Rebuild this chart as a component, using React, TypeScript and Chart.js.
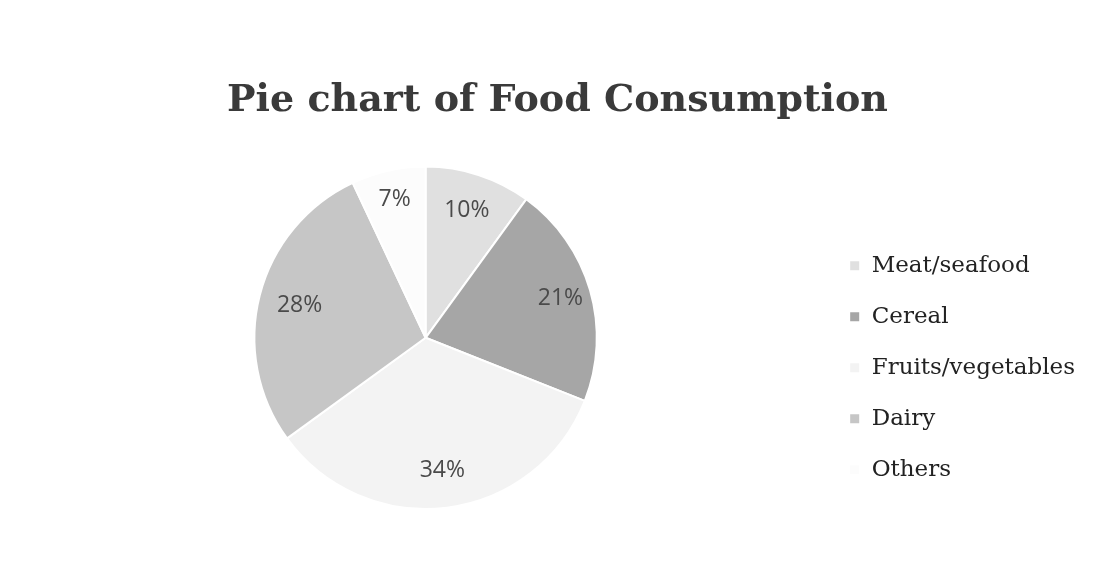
import React, { useEffect, useRef } from "react";
import { Chart, registerables } from "chart.js";

Chart.register(...registerables);

const categories = ["Meat/seafood", "Cereal", "Fruits/vegetables", "Dairy", "Others"];
const shares = [10, 21, 34, 28, 7];
const sliceColors = ["#e0e0e0", "#a6a6a6", "#f3f3f3", "#c6c6c6", "#fcfcfc"];
const labelRadiusFactor = [0.78, 0.82, 0.78, 0.76, 0.83];
const titleText = "Pie chart of Food Consumption";

const pctLabels = {
  id: "pctLabels",
  afterDatasetsDraw(chart: any) {
    const meta = chart.getDatasetMeta(0);
    const ctx = chart.ctx;
    ctx.save();
    ctx.font = "23px 'Open Sans'";
    ctx.fillStyle = "#4a4a4a";
    ctx.textAlign = "center";
    ctx.textBaseline = "middle";
    meta.data.forEach((arc: any, i: number) => {
      const { x, y, startAngle, endAngle, outerRadius } = arc.getProps(
        ["x", "y", "startAngle", "endAngle", "outerRadius"],
        true
      );
      const mid = (startAngle + endAngle) / 2;
      const r = outerRadius * labelRadiusFactor[i];
      ctx.fillText(shares[i] + "%", x + Math.cos(mid) * r, y + Math.sin(mid) * r);
    });
    ctx.restore();
  },
};

export default function App() {
  const ref = useRef<HTMLCanvasElement>(null);
  useEffect(() => {
    document.body.style.margin = "0";
    const chart = new Chart(ref.current as HTMLCanvasElement, {
      type: "pie",
      data: {
        labels: categories,
        datasets: [
          {
            data: shares,
            backgroundColor: sliceColors,
            borderColor: "#ffffff",
            borderWidth: 2,
          },
        ],
      },
      options: {
        animation: false,
        responsive: false,
        layout: { padding: { left: 30, right: 17, bottom: 54, top: 0 } },
        plugins: {
          title: {
            display: true,
            text: titleText,
            color: "#3a3a3a",
            font: { family: "'DejaVu Serif'", size: 38, weight: "bold" },
            padding: { top: 78, bottom: 42 },
          },
          legend: {
            position: "right",
            align: "start",
            title: { display: true, text: " ", font: { size: 1 }, padding: { top: 225, bottom: 0 } },
            labels: {
              color: "#222",
              font: { family: "'DejaVu Serif'", size: 23 },
              boxWidth: 11,
              boxHeight: 11,
              padding: 28,
            },
          },
          tooltip: { enabled: false },
        },
      },
      plugins: [pctLabels],
    });
    return () => chart.destroy();
  }, []);
  return (
    <div style={{ width: 1102, height: 564, background: "#fff" }}>
      <canvas ref={ref} width={1102} height={564} />
    </div>
  );
}
